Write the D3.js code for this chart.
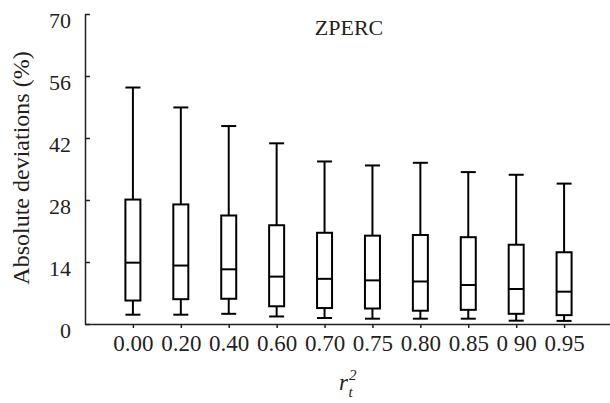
<!DOCTYPE html>
<html><head><meta charset="utf-8">
<script src="https://cdn.jsdelivr.net/npm/d3@7"></script>
<style>body{margin:0;background:#fff;}</style></head>
<body><svg id="c" width="610" height="403"></svg>
<script>
const categories = ["0.00","0.20","0.40","0.60","0.70","0.75","0.80","0.85","0 90","0.95"];
const whiskerLow = [2.1, 2.1, 2.3, 1.7, 1.35, 1.2, 1.2, 1.2, 0.75, 0.7];
const q1 = [5.3, 5.6, 5.7, 4.0, 3.6, 3.5, 3.0, 3.2, 2.3, 2.0];
const median = [13.85, 13.2, 12.35, 10.7, 10.2, 9.85, 9.6, 8.8, 7.9, 7.3];
const q3 = [28.1, 27.0, 24.5, 22.3, 20.6, 19.95, 20.1, 19.6, 17.9, 16.2];
const whiskerHigh = [53.4, 48.9, 44.7, 40.8, 36.7, 35.8, 36.4, 34.3, 33.7, 31.7];
const yTicks = [0, 14, 28, 42, 56, 70];
const title = "ZPERC";
const yLabel = "Absolute deviations (%)";

const FONT = '"Liberation Serif"';
const INK = "#231f20";
const svg = d3.select("#c");
const x = d3.scalePoint().domain(categories).range([85, 612]).padding(1);
const y = d3.scaleLinear().domain([0, 70]).range([324, 14]);
const bw = 15;

// y axis
const ya = svg.append("g").attr("transform","translate(85,0)")
  .call(d3.axisRight(y).tickValues(yTicks).tickSize(5).tickSizeOuter(0).tickFormat(d3.format("d")));
ya.attr("font-family", null).attr("font-size", null);
ya.select(".domain").attr("stroke",INK).attr("stroke-width",1.5);
ya.selectAll(".tick line").attr("stroke",INK).attr("stroke-width",1.5);
ya.selectAll(".tick text").attr("x",-14).attr("dy","0.6em").attr("text-anchor","end")
  .style("font-family",FONT).style("font-size","22px").attr("fill",INK);

// x axis
const xa = svg.append("g").attr("transform","translate(0,324)")
  .call(d3.axisBottom(x).tickSize(4).tickSizeOuter(0));
xa.attr("font-family", null).attr("font-size", null);
xa.select(".domain").attr("stroke",INK).attr("stroke-width",1.5);
xa.selectAll(".tick line").attr("stroke",INK).attr("stroke-width",1.5);
xa.selectAll(".tick text").attr("y",11).style("font-family",FONT).style("font-size","23px").attr("fill",INK);

const data = categories.map((c,i)=>({c, lo:whiskerLow[i], q1:q1[i], med:median[i], q3:q3[i], hi:whiskerHigh[i]}));
const g = svg.append("g").attr("stroke","#000").attr("stroke-width",2).attr("fill","none");
const b = g.selectAll("g.box").data(data).join("g").attr("class","box");
b.append("line").attr("x1",d=>x(d.c)).attr("x2",d=>x(d.c)).attr("y1",d=>y(d.hi)).attr("y2",d=>y(d.q3));
b.append("line").attr("x1",d=>x(d.c)).attr("x2",d=>x(d.c)).attr("y1",d=>y(d.q1)).attr("y2",d=>y(d.lo));
b.append("line").attr("x1",d=>x(d.c)-bw/2).attr("x2",d=>x(d.c)+bw/2).attr("y1",d=>y(d.hi)).attr("y2",d=>y(d.hi));
b.append("line").attr("x1",d=>x(d.c)-bw/2).attr("x2",d=>x(d.c)+bw/2).attr("y1",d=>y(d.lo)).attr("y2",d=>y(d.lo));
b.append("rect").attr("x",d=>x(d.c)-bw/2).attr("width",bw).attr("y",d=>y(d.q3)).attr("height",d=>y(d.q1)-y(d.q3)).attr("fill","#fff");
b.append("line").attr("x1",d=>x(d.c)-bw/2).attr("x2",d=>x(d.c)+bw/2).attr("y1",d=>y(d.med)).attr("y2",d=>y(d.med));

// title
svg.append("text").attr("x",349).attr("y",35).attr("text-anchor","middle")
  .style("font-family",FONT).style("font-size","22px").attr("fill",INK).text(title);
// y label
svg.append("text").attr("transform","translate(29,168) rotate(-90)").attr("text-anchor","middle")
  .style("font-family",FONT).style("font-size","24px").attr("fill",INK).text(yLabel);
// x label r_t^2
const xl = svg.append("text").attr("x",339).attr("y",390)
  .style("font-family",FONT).style("font-size","23px").style("font-style","italic").attr("fill",INK);
xl.append("tspan").text("r");
xl.append("tspan").attr("dx",1).attr("dy",-10).style("font-size","15px").text("2");
xl.append("tspan").attr("dx",-8).attr("dy",17).style("font-size","15px").text("t");
</script></body></html>
